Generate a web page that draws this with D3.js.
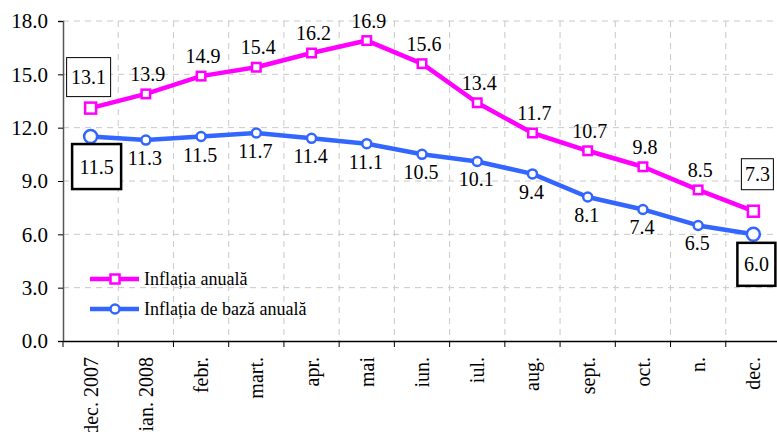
<!DOCTYPE html>
<html>
<head>
<meta charset="utf-8">
<script src="https://cdn.jsdelivr.net/npm/d3@7"></script>
<style>
  body { margin: 0; background: #fff; }
  .grid line { stroke: #c8c8c8; stroke-dasharray: 6,5; }
</style>
</head>
<body>
<div id="chart"></div>
<script>
// Data
const months = ["dec. 2007", "ian. 2008", "febr.", "mart.", "apr.", "mai", "iun.", "iul.", "aug.", "sept.", "oct.", "n.", "dec."];
const inflAnuala = [13.1, 13.9, 14.9, 15.4, 16.2, 16.9, 15.6, 13.4, 11.7, 10.7, 9.8, 8.5, 7.3];
const inflBaza = [11.5, 11.3, 11.5, 11.7, 11.4, 11.1, 10.5, 10.1, 9.4, 8.1, 7.4, 6.5, 6.0];
const yTicks = [0, 3, 6, 9, 12, 15, 18];
const seriesNames = ["Inflația anuală", "Inflația de bază anuală"];

const width = 777, height = 432;
const margin = {top: 21, right: -4, bottom: 91, left: 63};
const pink = "#ff00ff", blue = "#3366ff";
const fontFam = "'Liberation Serif'";

const svg = d3.select("#chart").append("svg")
    .attr("width", width)
    .attr("height", height);

const x = d3.scaleBand()
    .domain(months)
    .range([margin.left, width - margin.right]);

const y = d3.scaleLinear()
    .domain([0, 18])
    .range([height - margin.bottom, margin.top]);

const cx = d => x(d) + x.bandwidth() / 2;

// Grid
const grid = svg.append("g").attr("class", "grid");
grid.selectAll(".h").data(yTicks.filter(t => t > 0)).join("line")
    .attr("x1", margin.left).attr("x2", width)
    .attr("y1", d => y(d)).attr("y2", d => y(d));
grid.selectAll(".v").data(months.slice(1)).join("line")
    .attr("x1", d => x(d)).attr("x2", d => x(d))
    .attr("y1", y(18)).attr("y2", y(0));

// Axes
const yAxis = svg.append("g")
    .attr("transform", `translate(${margin.left},0)`)
    .call(d3.axisLeft(y).tickValues(yTicks).tickFormat(d3.format(".1f")).tickSize(5).tickPadding(10));
yAxis.select(".domain").attr("stroke", "#555").attr("stroke-width", 1.5);
yAxis.selectAll("text")
    .attr("fill", "#000")
    .style("font-family", fontFam)
    .style("font-size", "21px");

const xAxis = svg.append("g")
    .attr("transform", `translate(0,${y(0)})`)
    .call(d3.axisBottom(x).tickSize(0).tickFormat(""));
xAxis.select(".domain").attr("stroke", "#000").attr("stroke-width", 1.5);
xAxis.selectAll(".bt").data(months).join("line")
    .attr("x1", d => x(d)).attr("x2", d => x(d))
    .attr("y1", 0).attr("y2", 6)
    .attr("stroke", "#000");

svg.append("g").selectAll("text").data(months).join("text")
    .attr("transform", d => `translate(${cx(d)},${y(0) + 16}) rotate(-90)`)
    .attr("text-anchor", "end")
    .attr("dy", "0.35em")
    .style("font-family", fontFam)
    .style("font-size", "20px")
    .text(d => d);

// Lines
const line = d3.line()
    .x((d, i) => cx(months[i]))
    .y(d => y(d));

svg.append("path").datum(inflBaza)
    .attr("fill", "none").attr("stroke", blue).attr("stroke-width", 4.5)
    .attr("stroke-linejoin", "round")
    .attr("d", line);
svg.append("path").datum(inflAnuala)
    .attr("fill", "none").attr("stroke", pink).attr("stroke-width", 4.5)
    .attr("stroke-linejoin", "round")
    .attr("d", line);

const last = months.length - 1;
const isEnd = i => i === 0 || i === last;

// Markers
svg.append("g").selectAll("circle").data(inflBaza).join("circle")
    .attr("cx", (d, i) => cx(months[i]))
    .attr("cy", d => y(d))
    .attr("r", (d, i) => isEnd(i) ? 6.5 : 4.5)
    .attr("fill", "#fff").attr("stroke", blue).attr("stroke-width", 2.5);

svg.append("g").selectAll("rect").data(inflAnuala).join("rect")
    .each(function(d, i) {
        const s = isEnd(i) ? 11 : 8.5;
        d3.select(this)
            .attr("x", cx(months[i]) - s / 2)
            .attr("y", y(d) - s / 2)
            .attr("width", s).attr("height", s);
    })
    .attr("fill", "#fff").attr("stroke", pink).attr("stroke-width", 2.5);

// Data labels
const fmt = d3.format(".1f");
const labels = svg.append("g")
    .style("font-family", fontFam)
    .style("font-size", "20px")
    .attr("text-anchor", "middle");

inflAnuala.forEach((d, i) => {
    if (isEnd(i)) return;
    labels.append("text")
        .attr("x", cx(months[i]) + 2)
        .attr("y", y(d) - 13)
        .text(fmt(d));
});
inflBaza.forEach((d, i) => {
    if (isEnd(i)) return;
    labels.append("text")
        .attr("x", cx(months[i]) - 1)
        .attr("y", y(d) + 25)
        .text(fmt(d));
});

// Boxed labels at both ends
function boxed(value, px, py, dx, dy, w, h, sw) {
    const bx = px + dx, by = py + dy;
    labels.append("rect")
        .attr("x", bx - w / 2).attr("y", by - h / 2)
        .attr("width", w).attr("height", h)
        .attr("fill", "#fff").attr("stroke", "#000").attr("stroke-width", sw);
    labels.append("text")
        .attr("x", bx).attr("y", by)
        .attr("dy", "0.35em")
        .text(fmt(value));
}
boxed(inflAnuala[0], cx(months[0]), y(inflAnuala[0]), -2, -31, 44, 39, 1);
boxed(inflBaza[0], cx(months[0]), y(inflBaza[0]), 6, 30, 49, 45, 2.5);
boxed(inflAnuala[last], cx(months[last]), y(inflAnuala[last]), 4, -37, 32, 31, 1);
boxed(inflBaza[last], cx(months[last]), y(inflBaza[last]), 3, 30, 38, 43, 2.5);

// Legend
const legend = svg.append("g");
[pink, blue].forEach((c, i) => {
    const ly = 279 + i * 30;
    const g = legend.append("g");
    g.append("line")
        .attr("x1", 90).attr("x2", 139).attr("y1", ly).attr("y2", ly)
        .attr("stroke", c).attr("stroke-width", 4.5);
    if (i === 0) {
        g.append("rect").attr("x", 110.5).attr("y", ly - 4.5).attr("width", 9).attr("height", 9)
            .attr("fill", "#fff").attr("stroke", c).attr("stroke-width", 2.5);
    } else {
        g.append("circle").attr("cx", 115).attr("cy", ly).attr("r", 4.5)
            .attr("fill", "#fff").attr("stroke", c).attr("stroke-width", 2.5);
    }
    g.append("text")
        .attr("x", 144).attr("y", ly + 6)
        .style("font-family", fontFam)
        .style("font-size", "18px")
        .text(seriesNames[i]);
});
</script>
</body>
</html>
